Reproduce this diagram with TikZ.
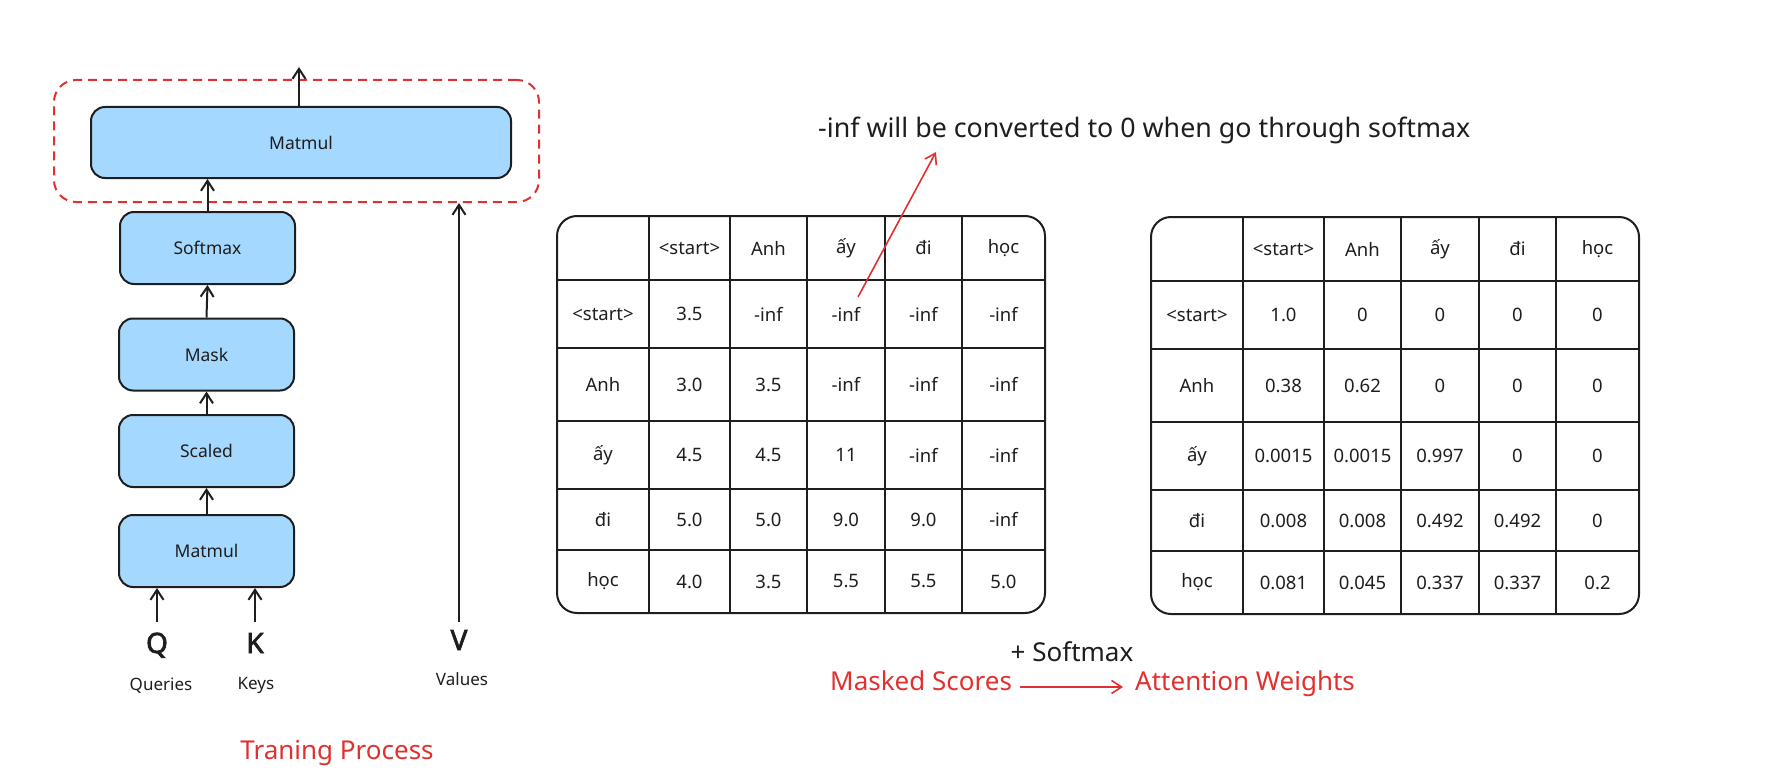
\documentclass[tikz,border=0pt]{standalone}
\usepackage{fontspec}
\setmainfont{Noto Sans}
\newfontfamily\qkvfont{Noto Sans}[FakeBold=2.5]
\usetikzlibrary{arrows.meta}
\definecolor{ink}{HTML}{1E1E1E}
\definecolor{boxblue}{HTML}{A5D8FF}
\definecolor{exred}{HTML}{E03131}
\tikzset{
  blk/.style={draw=ink, fill=boxblue, line width=2pt, rounded corners=14pt,
    font=\fontsize{17.5}{20}\selectfont, text=ink, inner sep=0pt,
    minimum width=175pt, minimum height=72pt},
  arr/.style={draw=ink, line width=2pt, -{Straight Barb[length=10pt,width=13pt]}},
  redarr/.style={draw=exred, line width=1.6pt, -{Straight Barb[length=10pt,width=13pt]}},
  dashbox/.style={draw=exred, line width=2pt, dash pattern=on 9pt off 6pt, rounded corners=22pt, inner sep=0pt},
  qkv/.style={font=\qkvfont\fontsize{28}{30}\selectfont, text=ink, inner sep=0pt,
    text height=20pt, text depth=0pt, anchor=base},
  lbl/.style={font=\fontsize{17}{20}\selectfont, text=ink, inner sep=0pt, anchor=base},
  big/.style={font=\fontsize{26}{30}\selectfont, inner sep=0pt},
  cell/.style={font=\fontsize{18.5}{20}\selectfont, text=ink, inner sep=0pt},
  tbl/.style={draw=ink, line width=2pt},
}
\newcommand{\trow}[8]{%
  \node[cell] (#1-0) at (603,#2) {#3};
  \node[cell] (#1-1) at (689.5,#2) {#4};
  \node[cell] (#1-2) at (768.5,#2) {#5};
  \node[cell] (#1-3) at (846,#2) {#6};
  \node[cell] (#1-4) at (923.5,#2) {#7};
  \node[cell] (#1-5) at (1003.5,#2) {#8};
}
\newcommand{\tgrid}{%
  \draw[tbl, rounded corners=20pt] (557,216) rectangle (1045,613);
  \foreach \xx in {649,730,807,885,962} \draw[tbl] (\xx,216) -- (\xx,613);
  \foreach \yy in {280,348,421,489,550} \draw[tbl] (557,\yy) -- (1045,\yy);
}
\begin{document}
\begin{tikzpicture}[x=1pt,y=-1pt]
\useasboundingbox (0,0) rectangle (1787,781);

% ---- left: training process ----
\node[dashbox, minimum width=485pt, minimum height=122pt] (grp) at (296.5,141) {};
\node[blk, minimum width=420pt, minimum height=71pt] (mm2) at (301,142.5) {Matmul};
\node[blk] (sm) at (207.5,248) {Softmax};
\node[blk] (mk) at (206.5,354.5) {Mask};
\node[blk] (sc) at (206.5,451) {Scaled};
\node[blk] (mm1) at (206.5,551) {Matmul};

\coordinate (out) at (299,67);
\draw[arr] (mm2.north -| out) -- (out);
\draw[arr] (sm.north) -- (sm.north |- mm2.south);
\draw[arr] (mk.north) -- (sm.south);
\draw[arr] (sc.north) -- (mk.south);
\draw[arr] (mm1.north) -- (sc.south);

\node[qkv, outer ysep=11pt] (Q) at (157,653) {Q};
\node[qkv, outer ysep=11pt] (K) at (255,653) {K};
\node[qkv, outer ysep=8pt] (V) at (459,650) {V};
\draw[arr] (Q.north) -- (Q.north |- mm1.south);
\draw[arr] (K.north) -- (K.north |- mm1.south);
\draw[arr] (V.north) -- (V.north |- grp.south);

\node[lbl] (lq) at (161,690) {Queries};
\node[lbl] (lk) at (256,689) {Keys};
\node[lbl] (lv) at (462,685) {Values};
\node[big, text=exred, anchor=base] (train) at (337,759) {Traning Process};

% ---- table 1: masked scores ----
\tgrid
\trow{ta-0}{248}{}{\textless start\textgreater}{Anh}{ấy}{đi}{học}
\trow{ta-1}{314}{\textless start\textgreater}{3.5}{-inf}{-inf}{-inf}{-inf}
\trow{ta-2}{384.5}{Anh}{3.0}{3.5}{-inf}{-inf}{-inf}
\trow{ta-3}{455}{ấy}{4.5}{4.5}{11}{-inf}{-inf}
\trow{ta-4}{519.5}{đi}{5.0}{5.0}{9.0}{9.0}{-inf}
\trow{ta-5}{581.5}{học}{4.0}{3.5}{5.5}{5.5}{5.0}

% ---- table 2: attention weights ----
\begin{scope}[shift={(594,1)}]
\tgrid
\trow{tb-0}{248}{}{\textless start\textgreater}{Anh}{ấy}{đi}{học}
\trow{tb-1}{314}{\textless start\textgreater}{1.0}{0}{0}{0}{0}
\trow{tb-2}{384.5}{Anh}{0.38}{0.62}{0}{0}{0}
\trow{tb-3}{455}{ấy}{0.0015}{0.0015}{0.997}{0}{0}
\trow{tb-4}{519.5}{đi}{0.008}{0.008}{0.492}{0.492}{0}
\trow{tb-5}{581.5}{học}{0.081}{0.045}{0.337}{0.337}{0.2}
\end{scope}

% ---- annotation ----
\node[big, font=\fontsize{26.8}{30}\selectfont, text=ink, anchor=base west] (note) at (818,137) {-inf will be converted to 0 when go through softmax};
\coordinate (anna) at (858,297);
\coordinate (annb) at (936,152);
\draw[redarr] (anna) -- (annb);

% ---- bottom caption ----
\node[big, text=ink, anchor=base] (plus) at (1072,661) {+ Softmax};
\node[big, text=exred, anchor=base west] (ms) at (830,690) {Masked Scores};
\node[big, text=exred, anchor=base west] (aw) at (1135,690) {Attention Weights};
\draw[redarr, shorten <=8pt, shorten >=12pt] ([yshift=3pt]ms.base east) -- ([yshift=3pt]aw.base west);
\end{tikzpicture}
\end{document}
